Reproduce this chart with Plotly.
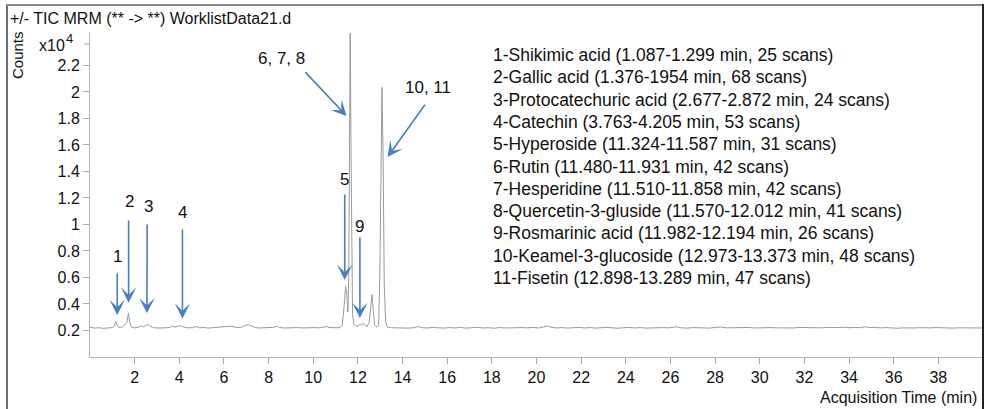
import plotly.graph_objects as go

# ---------------- data ----------------
time_min = [0.0, 0.2, 0.4, 0.6, 0.8, 1.0, 1.08, 1.15, 1.22, 1.3, 1.45, 1.55, 1.65, 1.72, 1.78, 1.85,
            2.0, 2.15, 2.3, 2.4, 2.5, 2.6, 2.7, 2.85, 3.0, 3.2, 3.4, 3.6, 3.7, 3.8, 3.95, 4.05, 4.2,
            4.4, 4.6, 4.75, 4.9, 5.1, 5.3, 5.5, 5.7, 5.9, 6.1, 6.3, 6.45, 6.6, 6.8, 6.95, 7.1, 7.25,
            7.4, 7.6, 7.8, 8.0, 8.2, 8.4, 8.5, 8.7, 8.9, 9.1, 9.3, 9.5, 9.7, 9.9, 10.1, 10.3, 10.5,
            10.6, 10.75, 10.9, 11.05, 11.2, 11.3, 11.38, 11.45, 11.5, 11.55, 11.59, 11.62, 11.655,
            11.69, 11.72, 11.76, 11.82, 11.9, 12.0, 12.1, 12.16, 12.24, 12.32, 12.42, 12.5, 12.57,
            12.63, 12.69, 12.75, 12.85, 12.93, 12.98, 13.03, 13.08, 13.13, 13.18, 13.24, 13.32,
            13.5, 13.75, 14.0, 14.25, 14.5, 14.7, 14.9, 15.1, 15.35, 15.6, 15.85, 16.1, 16.35, 16.6,
            16.85, 17.1, 17.35, 17.6, 17.85, 18.1, 18.35, 18.6, 18.85, 19.1, 19.35, 19.6, 19.85,
            20.1, 20.35, 20.5, 20.65, 20.9, 21.15, 21.4, 21.65, 21.9, 22.15, 22.4, 22.65, 22.9,
            23.15, 23.4, 23.65, 23.9, 24.15, 24.4, 24.65, 24.9, 25.15, 25.4, 25.65, 25.9, 26.15,
            26.3, 26.5, 26.75, 27.0, 27.25, 27.5, 27.75, 28.0, 28.25, 28.5, 28.75, 29.0, 29.25,
            29.5, 29.75, 30.0, 30.25, 30.5, 30.75, 31.0, 31.25, 31.5, 31.75, 32.0, 32.25, 32.5,
            32.75, 33.0, 33.25, 33.5, 33.75, 34.0, 34.25, 34.5, 34.7, 34.9, 35.15, 35.4, 35.65,
            35.9, 36.15, 36.4, 36.65, 36.9, 37.15, 37.4, 37.65, 37.9, 38.15, 38.4, 38.65, 38.9,
            39.15, 39.4, 39.65, 39.9, 40.0]
counts_e4 = [0.225, 0.218, 0.221, 0.216, 0.219, 0.222, 0.23, 0.27, 0.235, 0.222, 0.228, 0.24, 0.26, 0.33, 0.26, 0.228,
             0.22, 0.224, 0.235, 0.228, 0.24, 0.245, 0.232, 0.222, 0.219, 0.217, 0.22, 0.225, 0.232, 0.226, 0.23, 0.236, 0.226,
             0.22, 0.222, 0.23, 0.22, 0.223, 0.218, 0.221, 0.219, 0.222, 0.226, 0.233, 0.228, 0.222, 0.226, 0.24, 0.243, 0.232,
             0.222, 0.219, 0.222, 0.22, 0.224, 0.232, 0.222, 0.219, 0.221, 0.218, 0.222, 0.219, 0.221, 0.218, 0.222, 0.22, 0.224,
             0.23, 0.222, 0.219, 0.221, 0.222, 0.24, 0.38, 0.53, 0.48, 0.34, 0.6, 1.6, 2.46,
             1.6, 0.7, 0.32, 0.25, 0.235, 0.232, 0.245, 0.24, 0.255, 0.238, 0.232, 0.26, 0.38,
             0.47, 0.35, 0.24, 0.225, 0.24, 0.6, 1.6, 2.035, 1.5, 0.55, 0.27, 0.225,
             0.221, 0.219, 0.222, 0.218, 0.221, 0.229, 0.221, 0.219, 0.223, 0.22, 0.218, 0.222, 0.219, 0.223,
             0.218, 0.221, 0.224, 0.219, 0.221, 0.217, 0.222, 0.219, 0.221, 0.218, 0.222, 0.22, 0.223,
             0.219, 0.226, 0.234, 0.225, 0.219, 0.222, 0.218, 0.221, 0.223, 0.219, 0.222, 0.218, 0.221,
             0.224, 0.22, 0.217, 0.221, 0.223, 0.219, 0.222, 0.218, 0.221, 0.219, 0.222, 0.22, 0.224,
             0.228, 0.22, 0.218, 0.222, 0.219, 0.221, 0.218, 0.223, 0.226, 0.22, 0.222, 0.219, 0.221,
             0.223, 0.219, 0.221, 0.218, 0.222, 0.22, 0.218, 0.221, 0.219, 0.223, 0.221, 0.219, 0.222,
             0.22, 0.223, 0.22, 0.222, 0.225, 0.221, 0.223, 0.221, 0.228, 0.222, 0.224, 0.22, 0.222,
             0.219, 0.217, 0.22, 0.218, 0.219, 0.221, 0.218, 0.22, 0.222, 0.219, 0.221, 0.218, 0.22,
             0.219, 0.221, 0.218, 0.22, 0.219]

x_tickvals = [2, 4, 6, 8, 10, 12, 14, 16, 18, 20, 22, 24, 26, 28, 30, 32, 34, 36, 38]
y_tickvals = [0.2, 0.4, 0.6, 0.8, 1.0, 1.2, 1.4, 1.6, 1.8, 2.0, 2.2]
y_ticktext = ["0.2", "0.4", "0.6", "0.8", "1", "1.2", "1.4", "1.6", "1.8", "2", "2.2"]

# peak labels: text, label position (t, value), arrow tail (t, value), arrow tip (t, value)
peak_labels = ["1", "2", "3", "4", "5", "9", "6, 7, 8", "10, 11"]
label_pos = [(1.24, 0.755), (1.75, 1.172), (2.63, 1.134), (4.16, 1.087), (11.39, 1.336), (12.09, 0.983), (8.59, 2.254), (15.14, 2.035)]
arrow_tail = [(1.22, 0.644), (1.73, 1.042), (2.56, 1.011), (4.14, 0.974), (11.41, 1.238), (12.09, 0.913), (9.58, 2.161), (15.05, 1.915)]
arrow_tip = [(1.22, 0.317), (1.73, 0.41), (2.55, 0.33), (4.14, 0.29), (11.41, 0.581), (12.09, 0.294), (11.49, 1.819), (13.33, 1.509)]

compounds = [
    "1-Shikimic acid (1.087-1.299 min, 25 scans)",
    "2-Gallic acid (1.376-1954 min, 68 scans)",
    "3-Protocatechuric acid (2.677-2.872 min, 24 scans)",
    "4-Catechin (3.763-4.205 min, 53 scans)",
    "5-Hyperoside (11.324-11.587 min, 31 scans)",
    "6-Rutin (11.480-11.931 min, 42 scans)",
    "7-Hesperidine (11.510-11.858 min, 42 scans)",
    "8-Quercetin-3-gluside (11.570-12.012 min, 41 scans)",
    "9-Rosmarinic acid (11.982-12.194 min, 26 scans)",
    "10-Keamel-3-glucoside (12.973-13.373 min, 48 scans)",
    "11-Fisetin (12.898-13.289 min, 47 scans)",
]

# ---------------- layout geometry ----------------
W, H = 986, 409
L, R, T, B = 90, 3, 33, 52
PW, PH = W - L - R, H - T - B
FONT = "Liberation Sans, Arial, sans-serif"
ARROW = "#4a7ec2"


def px(x):
    return (x - L) / PW


def py(y):
    return (H - B - y) / PH


fig = go.Figure()
fig.add_trace(go.Scatter(x=time_min, y=counts_e4, mode="lines",
                         line=dict(color="#9a9a9a", width=1), hoverinfo="skip"))

annotations = []
for txt, (lx, ly), (tx, ty), (hx, hy) in zip(peak_labels, label_pos, arrow_tail, arrow_tip):
    annotations.append(dict(x=lx, y=ly, xref="x", yref="y", text=txt, showarrow=False,
                            font=dict(family=FONT, size=17, color="#111")))
    annotations.append(dict(x=hx, y=hy, ax=tx, ay=ty, xref="x", yref="y", axref="x", ayref="y",
                            text="", showarrow=True, arrowhead=3, arrowsize=1.6, arrowwidth=1.6,
                            arrowcolor=ARROW, standoff=0, startstandoff=0))

for i, c in enumerate(compounds):
    annotations.append(dict(x=px(491), y=py(55 + i * 22.3), xref="paper", yref="paper",
                            xanchor="left", yanchor="middle", text=c, showarrow=False,
                            font=dict(family=FONT, size=17.5, color="#111")))

annotations += [
    dict(x=px(8), y=py(18), xref="paper", yref="paper", xanchor="left", yanchor="middle",
         text="+/- TIC MRM (** -> **) WorklistData21.d", showarrow=False,
         font=dict(family=FONT, size=16, color="#111")),
    dict(x=px(18), y=py(55), xref="paper", yref="paper", xanchor="center", yanchor="middle",
         text="Counts", textangle=-90, showarrow=False,
         font=dict(family=FONT, size=15, color="#111")),
    dict(x=px(37), y=py(46), xref="paper", yref="paper", xanchor="left", yanchor="middle",
         text="x10", showarrow=False, font=dict(family=FONT, size=16, color="#111")),
    dict(x=px(64), y=py(39), xref="paper", yref="paper", xanchor="left", yanchor="middle",
         text="4", showarrow=False, font=dict(family=FONT, size=13, color="#111")),
    dict(x=px(979), y=py(397), xref="paper", yref="paper", xanchor="right", yanchor="middle",
         text="Acquisition Time (min)", showarrow=False,
         font=dict(family=FONT, size=16, color="#111")),
]

shapes = [
    dict(type="line", xref="paper", yref="paper", x0=px(7), x1=px(7), y0=py(4), y1=py(412),
         line=dict(color="#707070", width=2)),
    dict(type="line", xref="paper", yref="paper", x0=px(6), x1=px(984), y0=py(5), y1=py(5),
         line=dict(color="#8a8a8a", width=2)),
    dict(type="line", xref="paper", yref="paper", x0=px(983), x1=px(983), y0=py(4), y1=py(412),
         line=dict(color="#222", width=2)),
    dict(type="line", xref="paper", yref="paper", x0=px(84), x1=px(90), y0=py(44), y1=py(44),
         line=dict(color="#aaaaaa", width=1)),
]

fig.update_layout(
    width=W, height=H, margin=dict(l=L, r=R, t=T, b=B),
    paper_bgcolor="white", plot_bgcolor="white", showlegend=False,
    font=dict(family=FONT, size=16, color="#111"),
    annotations=annotations, shapes=shapes,
    xaxis=dict(range=[0, 40.0], tickvals=x_tickvals, ticks="outside", ticklen=6, tickcolor="#aaaaaa",
               showline=True, linecolor="#b5b5b5", linewidth=1, showgrid=False, zeroline=False,
               tickfont=dict(family=FONT, size=16, color="#111")),
    yaxis=dict(range=[0, 2.445], tickvals=y_tickvals, ticktext=y_ticktext, ticks="outside", ticklen=6,
               tickcolor="#aaaaaa", showline=True, linecolor="#b5b5b5", linewidth=1, showgrid=False,
               zeroline=False, tickfont=dict(family=FONT, size=16, color="#111")),
)

fig.write_html("out.html", config={"displayModeBar": False},
               post_script="document.body.style.margin='0';document.body.style.padding='0';"
                           "document.body.style.overflow='hidden';")
